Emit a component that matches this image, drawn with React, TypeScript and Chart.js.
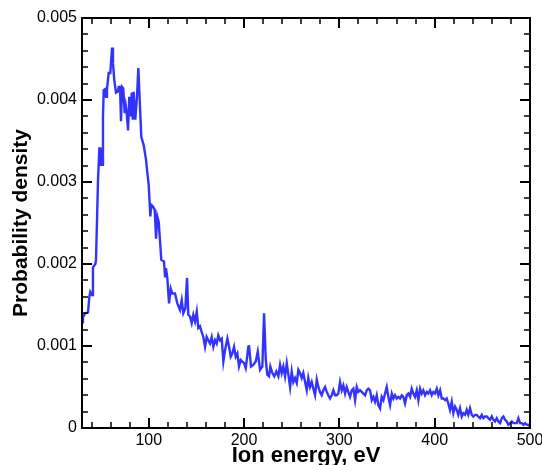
import React, { useEffect, useRef } from 'react';
import { Chart, registerables } from 'chart.js';

Chart.register(...registerables);

// Ion energy (eV)
const energies = [
  30.0, 31.0, 33.5, 36.3, 37.7, 38.7, 40.5, 41.5, 44.0, 44.7,
  46.8, 48.2, 49.2, 49.9, 51.0, 52.0, 52.8, 54.1, 55.2, 56.2,
  58.0, 59.7, 61.5, 62.5, 63.9, 65.7, 67.5, 68.5, 69.9, 70.9,
  72.0, 73.3, 74.8, 75.9, 76.9, 78.3, 79.6, 81.1, 82.2, 83.2,
  84.2, 85.9, 87.7, 89.1, 90.1, 92.2, 94.7, 97.2, 98.2, 100.0,
  101.0, 101.7, 102.7, 104.5, 106.3, 107.7, 109.0, 110.5, 113.2, 116.0,
  117.1, 118.1, 119.5, 121.3, 123.1, 124.8, 127.6, 130.0, 132.8, 134.6,
  136.3, 138.4, 140.2, 141.5, 143.3, 145.1, 146.8, 148.6, 150.4, 152.0,
  153.8, 155.6, 157.3, 159.1, 160.8, 162.5, 164.3, 166.1, 167.8, 169.6,
  171.3, 173.0, 174.8, 176.6, 178.3, 180.1, 182.5, 184.3, 186.0, 187.7,
  189.5, 191.3, 193.0, 194.7, 196.5, 198.2, 200.0, 201.8, 204.5, 205.2,
  207.3, 209.7, 212.3, 214.4, 216.8, 219.2, 221.0, 222.8, 224.4, 226.2,
  227.6, 229.7, 231.8, 233.9, 236.0, 237.8, 239.5, 241.2, 243.0, 244.8,
  246.5, 248.3, 250.0, 251.7, 253.5, 255.3, 257.0, 258.7, 260.5, 262.2,
  264.0, 265.8, 267.4, 269.2, 271.0, 272.7, 274.5, 276.3, 278.0, 279.7,
  281.5, 283.2, 285.0, 286.8, 288.4, 290.2, 292.0, 293.7, 295.5, 297.2,
  298.9, 300.7, 302.5, 304.2, 306.0, 307.7, 309.4, 311.2, 313.0, 314.7,
  316.5, 318.2, 319.9, 321.7, 323.5, 325.2, 327.0, 328.7, 330.4, 332.2,
  334.0, 335.7, 337.4, 339.2, 340.9, 342.7, 344.4, 346.2, 347.9, 349.7,
  351.4, 353.2, 355.0, 356.7, 358.4, 360.2, 361.9, 363.7, 365.5, 367.1,
  368.9, 370.7, 372.4, 374.2, 375.9, 377.6, 379.4, 381.2, 382.9, 384.7,
  386.4, 388.1, 389.9, 391.7, 393.4, 395.2, 396.9, 398.6, 400.4, 402.2,
  403.9, 405.7, 407.4, 409.1, 410.9, 412.6, 414.3, 416.1, 417.9, 419.6,
  421.4, 423.2, 424.8, 426.6, 428.4, 430.1, 431.9, 433.6, 435.3, 437.1,
  438.9, 440.6, 442.4, 444.1, 445.8, 447.6, 449.4, 451.1, 452.8, 454.6,
  456.3, 458.1, 459.9, 461.6, 463.3, 465.1, 466.8, 468.6, 470.4, 472.1,
  473.9, 475.6, 477.3, 479.1, 480.9, 482.6, 484.4, 486.1, 487.8, 489.6,
  491.4, 493.1, 494.9, 496.6, 498.3, 500.0,
];

// Probability density
const densities = [
  0.00129, 0.00135, 0.00140, 0.00141, 0.00160, 0.00166, 0.00162, 0.00196, 0.00200, 0.00205,
  0.00302, 0.00341, 0.00341, 0.00321, 0.00321, 0.00380, 0.00412, 0.00413, 0.00404, 0.00413,
  0.00433, 0.00433, 0.00464, 0.00445, 0.00424, 0.00409, 0.00410, 0.00416, 0.00416, 0.00374,
  0.00416, 0.00414, 0.00384, 0.00393, 0.00384, 0.00363, 0.00404, 0.00380, 0.00409, 0.00376,
  0.00410, 0.00376, 0.00404, 0.00439, 0.00412, 0.00355, 0.00345, 0.00327, 0.00315, 0.00296,
  0.00274, 0.00258, 0.00272, 0.00270, 0.00266, 0.00231, 0.00258, 0.00251, 0.00205, 0.00203,
  0.00185, 0.00195, 0.00183, 0.00152, 0.00170, 0.00164, 0.00164, 0.00152, 0.00144, 0.00156,
  0.00140, 0.00146, 0.00183, 0.00138, 0.00136, 0.00128, 0.00138, 0.00130, 0.00142, 0.00122,
  0.00124, 0.00117, 0.00111, 0.00099, 0.00111, 0.00107, 0.00103, 0.00111, 0.00099, 0.00107,
  0.00103, 0.00113, 0.00107, 0.00109, 0.00081, 0.00095, 0.00109, 0.00099, 0.00087, 0.00091,
  0.00099, 0.00087, 0.00091, 0.00075, 0.00083, 0.00081, 0.00079, 0.00073, 0.00099, 0.00101,
  0.00075, 0.00077, 0.00081, 0.00093, 0.00071, 0.00075, 0.00140, 0.00083, 0.00065, 0.00063,
  0.00075, 0.00067, 0.00063, 0.00069, 0.00063, 0.00077, 0.00067, 0.00075, 0.00063, 0.00079,
  0.00065, 0.00050, 0.00069, 0.00056, 0.00061, 0.00055, 0.00071, 0.00067, 0.00061, 0.00067,
  0.00056, 0.00046, 0.00061, 0.00050, 0.00056, 0.00048, 0.00040, 0.00059, 0.00050, 0.00044,
  0.00040, 0.00046, 0.00050, 0.00044, 0.00040, 0.00036, 0.00040, 0.00046, 0.00040, 0.00040,
  0.00042, 0.00056, 0.00046, 0.00052, 0.00042, 0.00050, 0.00044, 0.00038, 0.00046, 0.00048,
  0.00034, 0.00050, 0.00044, 0.00046, 0.00044, 0.00042, 0.00040, 0.00046, 0.00048, 0.00046,
  0.00034, 0.00038, 0.00032, 0.00040, 0.00028, 0.00024, 0.00038, 0.00034, 0.00042, 0.00050,
  0.00038, 0.00028, 0.00042, 0.00036, 0.00040, 0.00036, 0.00038, 0.00036, 0.00040, 0.00038,
  0.00030, 0.00040, 0.00042, 0.00038, 0.00048, 0.00042, 0.00038, 0.00046, 0.00034, 0.00048,
  0.00042, 0.00046, 0.00040, 0.00044, 0.00042, 0.00046, 0.00040, 0.00044, 0.00042, 0.00048,
  0.00040, 0.00046, 0.00036, 0.00036, 0.00034, 0.00036, 0.00030, 0.00022, 0.00032, 0.00018,
  0.00026, 0.00022, 0.00016, 0.00024, 0.00014, 0.00018, 0.00016, 0.00022, 0.00016, 0.00024,
  0.00016, 0.00014, 0.00016, 0.00016, 0.00014, 0.00012, 0.00016, 0.00012, 0.00014, 0.00014,
  0.00012, 0.00010, 0.00014, 0.00010, 0.00008, 0.00012, 0.00008, 0.00006, 0.00012, 0.00014,
  0.00010, 0.00008, 0.00004, 0.00006, 0.00008, 0.00006, 0.00006, 0.00006, 0.00012, 0.00006,
  0.00006, 0.00004, 0.00006, 0.00004, 0.00004, 0.00002,
];

const xMajorTicks = [100, 200, 300, 400, 500];
const yMajorTicks = [0, 0.001, 0.002, 0.003, 0.004, 0.005];
const xMinorTicks = [40, 60, 80, 120, 140, 160, 180, 220, 240, 260, 280, 320, 340, 360, 380, 420, 440, 460, 480];
const yMinorTicks = [
  0.0002, 0.0004, 0.0006, 0.0008, 0.0012, 0.0014, 0.0016, 0.0018, 0.0022, 0.0024,
  0.0026, 0.0028, 0.0032, 0.0034, 0.0036, 0.0038, 0.0042, 0.0044, 0.0046, 0.0048,
];

const FONT = "'Liberation Sans', Arial, Helvetica, sans-serif";

const framePlugin = {
  id: 'tecFrame',
  afterDraw(chart: any) {
    const { ctx, chartArea: a, scales } = chart;
    const xs = scales.x;
    const ys = scales.y;
    ctx.save();
    ctx.strokeStyle = '#000';
    const drawX = (vals: number[], len: number, lw: number) => {
      ctx.lineWidth = lw;
      ctx.beginPath();
      vals.forEach((v) => {
        const px = Math.round(xs.getPixelForValue(v));
        ctx.moveTo(px, a.bottom);
        ctx.lineTo(px, a.bottom - len);
        ctx.moveTo(px, a.top);
        ctx.lineTo(px, a.top + len);
      });
      ctx.stroke();
    };
    const drawY = (vals: number[], len: number, lw: number) => {
      ctx.lineWidth = lw;
      ctx.beginPath();
      vals.forEach((v) => {
        const py = Math.round(ys.getPixelForValue(v));
        ctx.moveTo(a.left, py);
        ctx.lineTo(a.left + len, py);
        ctx.moveTo(a.right, py);
        ctx.lineTo(a.right - len, py);
      });
      ctx.stroke();
    };
    drawX(xMinorTicks, 6, 1.5);
    drawY(yMinorTicks, 6, 1.5);
    drawX(xMajorTicks, 10, 2);
    drawY(yMajorTicks, 10, 2);
    ctx.lineWidth = 2;
    ctx.strokeRect(a.left, a.top, a.right - a.left, a.bottom - a.top);
    ctx.restore();
  },
};

export default function App() {
  const canvasRef = useRef<HTMLCanvasElement | null>(null);

  useEffect(() => {
    if (!canvasRef.current) return;
    const points = energies.map((e, i) => ({ x: e, y: densities[i] }));
    const chart = new Chart(canvasRef.current, {
      type: 'line',
      data: {
        datasets: [
          {
            data: points,
            borderColor: '#3333ff',
            borderWidth: 2.4,
            pointRadius: 0,
            tension: 0,
            fill: false,
          },
        ],
      },
      options: {
        animation: false,
        responsive: false,
        devicePixelRatio: 1,
        layout: { padding: { top: 18, right: 12, bottom: 0, left: 0 } },
        plugins: { legend: { display: false }, tooltip: { enabled: false } },
        scales: {
          x: {
            type: 'linear',
            min: 30,
            max: 500,
            grid: { display: false, drawTicks: false },
            border: { display: false },
            afterBuildTicks: (s: any) => {
              s.ticks = xMajorTicks.map((v) => ({ value: v }));
            },
            afterFit: (s: any) => {
              s.height = 37;
              s.paddingLeft = 0;
              s.paddingRight = 0;
            },
            ticks: {
              color: '#000',
              font: { family: FONT, size: 16 },
              padding: 3,
              maxRotation: 0,
              autoSkip: false,
              callback: (v: any) => String(v),
            },
            title: {
              display: true,
              text: 'Ion energy, eV',
              color: '#000',
              font: { family: FONT, size: 22, weight: 'bold', lineHeight: 0.7 },
              padding: { top: 0, bottom: 1 },
            },
          },
          y: {
            type: 'linear',
            min: 0,
            max: 0.005,
            grid: { display: false, drawTicks: false },
            border: { display: false },
            afterBuildTicks: (s: any) => {
              s.ticks = yMajorTicks.map((v) => ({ value: v }));
            },
            afterFit: (s: any) => {
              s.width = 82;
              s.paddingTop = 0;
              s.paddingBottom = 0;
            },
            ticks: {
              color: '#000',
              font: { family: FONT, size: 16 },
              padding: 5,
              autoSkip: false,
              callback: (v: any) => (Number(v) === 0 ? '0' : Number(v).toFixed(3)),
            },
            title: {
              display: true,
              text: 'Probability density',
              color: '#000',
              font: { family: FONT, size: 21, weight: 'bold' },
              padding: { top: 9, bottom: 0 },
            },
          },
        },
      },
      plugins: [framePlugin],
    } as any);
    return () => chart.destroy();
  }, []);

  return (
    <div style={{ position: 'absolute', left: 0, top: 0, width: 542, height: 465 }}>
      <canvas ref={canvasRef} width={542} height={465} />
    </div>
  );
}
